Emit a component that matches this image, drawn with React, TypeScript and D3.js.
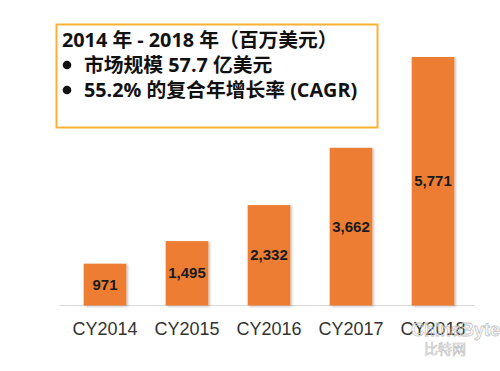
import * as d3 from 'd3';
import React, {useEffect, useRef} from 'react';

const categories = ['CY2014', 'CY2015', 'CY2016', 'CY2017', 'CY2018'];
const values = [971, 1495, 2332, 3662, 5771];
const boxLines = [
  '2014 年 - 2018 年（百万美元）',
  '市场规模 57.7 亿美元',
  '55.2% 的复合年增长率 (CAGR)'
];

const W = 500;
const H = 371;

const App: React.FC = () => {
  const ref = useRef<SVGSVGElement>(null);

  useEffect(() => {
    document.body.style.margin = '0';
    const svg = d3.select(ref.current);
    svg.selectAll('*').remove();

    const baseline = 305.5;
    const x = d3.scaleBand<string>()
      .domain(categories)
      .range([64, 474])
      .paddingInner(0.48)
      .paddingOuter(0.24);
    const y = d3.scaleLinear()
      .domain([0, 5771])
      .range([baseline, 57]);

    const defs = svg.append('defs');
    const f = defs.append('filter').attr('id', 'sh')
      .attr('x', '-10%').attr('y', '-10%').attr('width', '130%').attr('height', '130%');
    f.append('feDropShadow').attr('dx', 1.5).attr('dy', 1).attr('stdDeviation', 1.2)
      .attr('flood-color', '#000').attr('flood-opacity', 0.25);

    // axis line
    svg.append('line')
      .attr('x1', 60).attr('x2', 475)
      .attr('y1', baseline).attr('y2', baseline)
      .attr('stroke', '#d9d9d9').attr('stroke-width', 1.2);

    svg.append('g').selectAll('rect')
      .data(values)
      .enter()
      .append('rect')
      .attr('x', (d, i) => x(categories[i])!)
      .attr('width', x.bandwidth())
      .attr('y', d => y(d))
      .attr('height', d => baseline - y(d))
      .attr('fill', '#ED7D31')
      .attr('filter', 'url(#sh)');

    svg.append('g').selectAll('text')
      .data(values)
      .enter()
      .append('text')
      .attr('x', (d, i) => x(categories[i])! + x.bandwidth() / 2)
      .attr('y', d => (y(d) + baseline) / 2 + 5)
      .attr('text-anchor', 'middle')
      .attr('font-family', '"Liberation Sans", Arial, sans-serif')
      .attr('font-weight', 'bold')
      .attr('font-size', 15)
      .attr('fill', '#1a1a1a')
      .text(d => d3.format(',')(d));

    svg.append('g').selectAll('text')
      .data(categories)
      .enter()
      .append('text')
      .attr('x', d => x(d)! + x.bandwidth() / 2)
      .attr('y', 335)
      .attr('text-anchor', 'middle')
      .attr('font-family', '"Liberation Sans", Arial, sans-serif')
      .attr('font-size', 18)
      .attr('fill', '#333')
      .text(d => d);

    // watermark
    svg.append('text')
      .attr('x', 500).attr('y', 336)
      .attr('text-anchor', 'end')
      .attr('font-family', '"Liberation Sans", Arial, sans-serif')
      .attr('font-size', 18).attr('font-weight', 'bold')
      .attr('fill', 'none').attr('stroke', '#c4c4c4').attr('stroke-width', 0.8)
      .text('ChinaByte');
    svg.append('text')
      .attr('x', 445).attr('y', 354)
      .attr('text-anchor', 'middle')
      .attr('font-family', '"Noto Sans CJK SC", sans-serif')
      .attr('font-size', 14)
      .attr('fill', 'none').attr('stroke', '#c4c4c4').attr('stroke-width', 0.7)
      .text('比特网');

    // annotation box
    svg.append('rect')
      .attr('x', 56.5).attr('y', 24.5)
      .attr('width', 321).attr('height', 103)
      .attr('fill', '#fff')
      .attr('stroke', '#F9B233').attr('stroke-width', 2);

    const box = svg.append('g')
      .attr('font-family', '"Open Sans", "Noto Sans CJK SC", sans-serif')
      .attr('font-weight', 'bold')
      .attr('font-size', 19.8)
      .attr('fill', '#111');
    box.append('text').attr('x', 62).attr('y', 47).text(boxLines[0]);
    boxLines.slice(1).forEach((t, i) => {
      const by = 72 + i * 25;
      box.append('circle').attr('cx', 67).attr('cy', by - 7).attr('r', 4.3).attr('fill', '#111');
      box.append('text').attr('x', 84).attr('y', by).text(t);
    });
  }, []);

  return (
    <svg ref={ref} width={W} height={H} style={{display: 'block', background: '#fff'}} />
  );
};

export default App;
